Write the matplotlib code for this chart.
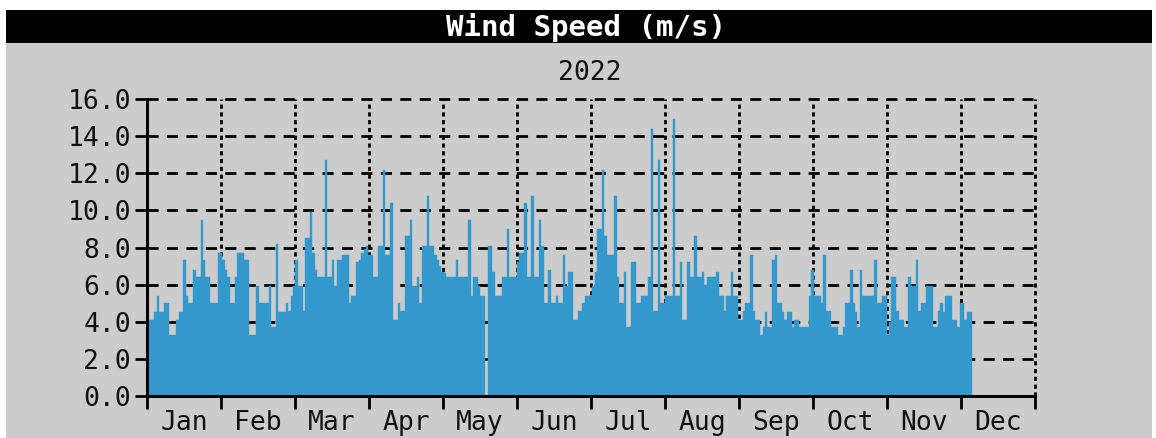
import matplotlib
matplotlib.use("Agg")
import matplotlib.pyplot as plt
import matplotlib.patches as patches
from matplotlib.ticker import FormatStrFormatter

# daily average wind speed 2022 (m/s)
jan = [4.1, 4.1, 4.1, 4.5, 5.4, 4.5, 4.5, 5.0, 5.0, 3.3, 3.3, 3.3, 4.1, 4.5, 4.5, 7.3,
       5.4, 5.0, 5.0, 6.8, 6.4, 6.4, 9.5, 7.3, 6.4, 6.4, 5.0, 5.0, 5.0, 7.7, 7.7]
feb = [7.3, 6.8, 6.4, 5.0, 5.0, 6.4, 7.7, 7.7, 7.7, 7.3, 7.3, 3.3, 3.3, 3.3, 5.9, 5.0,
       5.0, 5.0, 5.0, 5.9, 3.7, 3.7, 8.2, 4.5, 4.5, 4.5, 5.0, 4.6]
mar = [5.4, 5.9, 7.3, 5.9, 5.9, 4.6, 8.5, 8.5, 9.9, 7.7, 6.8, 6.4, 6.4, 6.4, 12.7, 6.4,
       6.4, 7.3, 5.9, 7.3, 7.3, 7.6, 7.6, 7.6, 5.0, 5.4, 5.4, 7.2, 7.3, 7.7, 7.9]
apr = [8.1, 7.6, 7.6, 6.4, 6.4, 8.1, 8.1, 12.2, 7.6, 7.6, 10.4, 4.1, 4.1, 5.0, 4.6, 4.6,
       8.6, 8.6, 9.5, 5.9, 5.9, 6.4, 5.0, 8.1, 8.1, 10.8, 8.1, 8.1, 7.6, 7.3]
may = [7.0, 6.7, 6.6, 6.4, 6.4, 6.4, 6.4, 7.3, 6.4, 6.4, 6.4, 6.4, 9.5, 5.4, 6.4, 6.4,
       5.9, 5.4, 5.4, 0.0, 8.1, 8.1, 6.7, 5.4, 5.4, 5.4, 6.4, 6.4, 9.0, 6.4, 6.4]
jun = [6.4, 7.2, 7.7, 7.7, 10.4, 6.4, 6.4, 10.8, 6.4, 6.4, 9.5, 8.1, 5.0, 5.0, 6.8, 5.0,
       5.0, 5.4, 5.0, 5.0, 7.6, 5.9, 6.7, 6.7, 4.1, 4.1, 4.6, 4.6, 5.0, 5.4]
jul = [5.4, 5.4, 5.9, 6.7, 9.0, 9.0, 12.2, 8.6, 7.6, 7.6, 7.6, 10.8, 6.4, 5.0, 5.0, 6.7,
       3.7, 3.7, 7.2, 7.2, 5.0, 5.0, 5.4, 5.4, 5.4, 6.4, 14.4, 4.6, 4.6, 12.7, 5.0]
aug = [5.0, 5.4, 5.4, 5.4, 14.9, 5.4, 5.4, 7.2, 4.1, 4.1, 7.2, 6.4, 6.4, 8.6, 6.4, 6.4,
       6.7, 6.0, 6.4, 6.4, 6.4, 6.4, 6.7, 5.4, 5.4, 4.6, 5.4, 5.4, 6.7, 5.4, 5.4]
sep = [4.1, 4.1, 4.6, 5.0, 5.0, 7.6, 4.6, 4.1, 4.1, 3.3, 3.7, 4.5, 3.7, 3.7, 7.3, 7.6,
       5.0, 5.0, 4.5, 4.1, 4.5, 4.5, 3.7, 4.1, 4.1, 3.7, 3.7, 3.7, 3.7, 5.4]
octo = [6.8, 5.4, 5.4, 5.4, 5.0, 7.6, 4.6, 4.6, 3.7, 3.7, 3.7, 3.3, 3.3, 3.7, 5.0, 5.0,
        6.8, 5.0, 4.5, 3.7, 6.8, 5.4, 5.4, 5.4, 5.4, 5.4, 7.3, 5.0, 5.0, 5.4, 5.4]
nov = [3.3, 4.0, 6.4, 6.4, 4.6, 4.1, 4.1, 3.7, 3.7, 6.4, 5.9, 5.9, 7.3, 4.6, 5.0, 5.0,
       5.9, 5.9, 5.9, 3.7, 3.7, 4.6, 5.0, 4.5, 5.4, 5.4, 5.4, 4.1, 4.1, 3.7]
dec = [5.0, 5.0, 4.1, 4.5, 4.5]

month_labels = ["Jan", "Feb", "Mar", "Apr", "May", "Jun",
                "Jul", "Aug", "Sep", "Oct", "Nov", "Dec"]
y_ticks = [0, 2, 4, 6, 8, 10, 12, 14, 16]

wind = jan + feb + mar + apr + may + jun + jul + aug + sep + octo + nov + dec
days = list(range(len(wind)))

W, H = 1156, 438
font = "DejaVu Sans Mono"
bar_color = "#3399cc"
bg = "#cccccc"

fig = plt.figure(figsize=(W / 100, H / 100), dpi=100, facecolor="white")

# grey panel and black title band
fig.add_artist(patches.Rectangle((6 / W, 0), 1146 / W, 428 / H, transform=fig.transFigure,
                                 facecolor=bg, edgecolor="none", zorder=-2))
fig.add_artist(patches.Rectangle((6 / W, (H - 43) / H), 1146 / W, 33 / H, transform=fig.transFigure,
                                 facecolor="black", edgecolor="none", zorder=-1))
fig.text(586 / W, (H - 27) / H, "Wind Speed (m/s)", color="white", fontsize=21,
         fontweight="bold", family=font, ha="center", va="center")
fig.text(590 / W, (H - 73) / H, "2022", color="#111111", fontsize=19,
         family=font, ha="center", va="center")

ax = fig.add_axes([147 / W, 42 / H, 888 / W, 297 / H])
ax.set_facecolor("none")
ax.bar(days, wind, width=1.0, align="edge", color=bar_color,
       edgecolor=bar_color, linewidth=0.3, zorder=2)

ax.set_xlim(0, 365)
ax.set_ylim(0, 16)

# month ticks evenly spaced, labels between them
major = [i * 365 / 12 for i in range(13)]
minor = [(i + 0.5) * 365 / 12 for i in range(12)]
ax.set_xticks(major)
ax.set_xticklabels([""] * 13)
ax.set_xticks(minor, minor=True)
ax.set_xticklabels(month_labels, minor=True)
ax.set_yticks(y_ticks)
ax.yaxis.set_major_formatter(FormatStrFormatter("%.1f"))

ax.tick_params(axis="x", which="major", direction="out", length=9.5, width=2, color="black")
ax.tick_params(axis="x", which="minor", length=0, pad=10, labelsize=19)
ax.tick_params(axis="y", direction="out", length=8.5, width=2, pad=3, labelsize=19)
for lab in ax.get_xticklabels(minor=True) + ax.get_yticklabels():
    lab.set_family(font)
    lab.set_color("#111111")

# grid: dotted verticals, dashed horizontals
ax.xaxis.grid(True, which="major", color="black", linewidth=2, linestyle=(0, (1.5, 1.3)), zorder=1)
ax.yaxis.grid(True, which="major", color="black", linewidth=2, linestyle=(0, (4, 3)), zorder=1)
ax.set_axisbelow(True)
for line in ax.get_xgridlines() + ax.get_ygridlines():
    line.set_clip_on(False)

for side in ["top", "right"]:
    ax.spines[side].set_visible(False)
for side in ["left", "bottom"]:
    ax.spines[side].set_linewidth(2.2)
    ax.spines[side].set_color("black")
    ax.spines[side].set_zorder(3)

plt.savefig("out.png", dpi=100, facecolor="white")
plt.close()
